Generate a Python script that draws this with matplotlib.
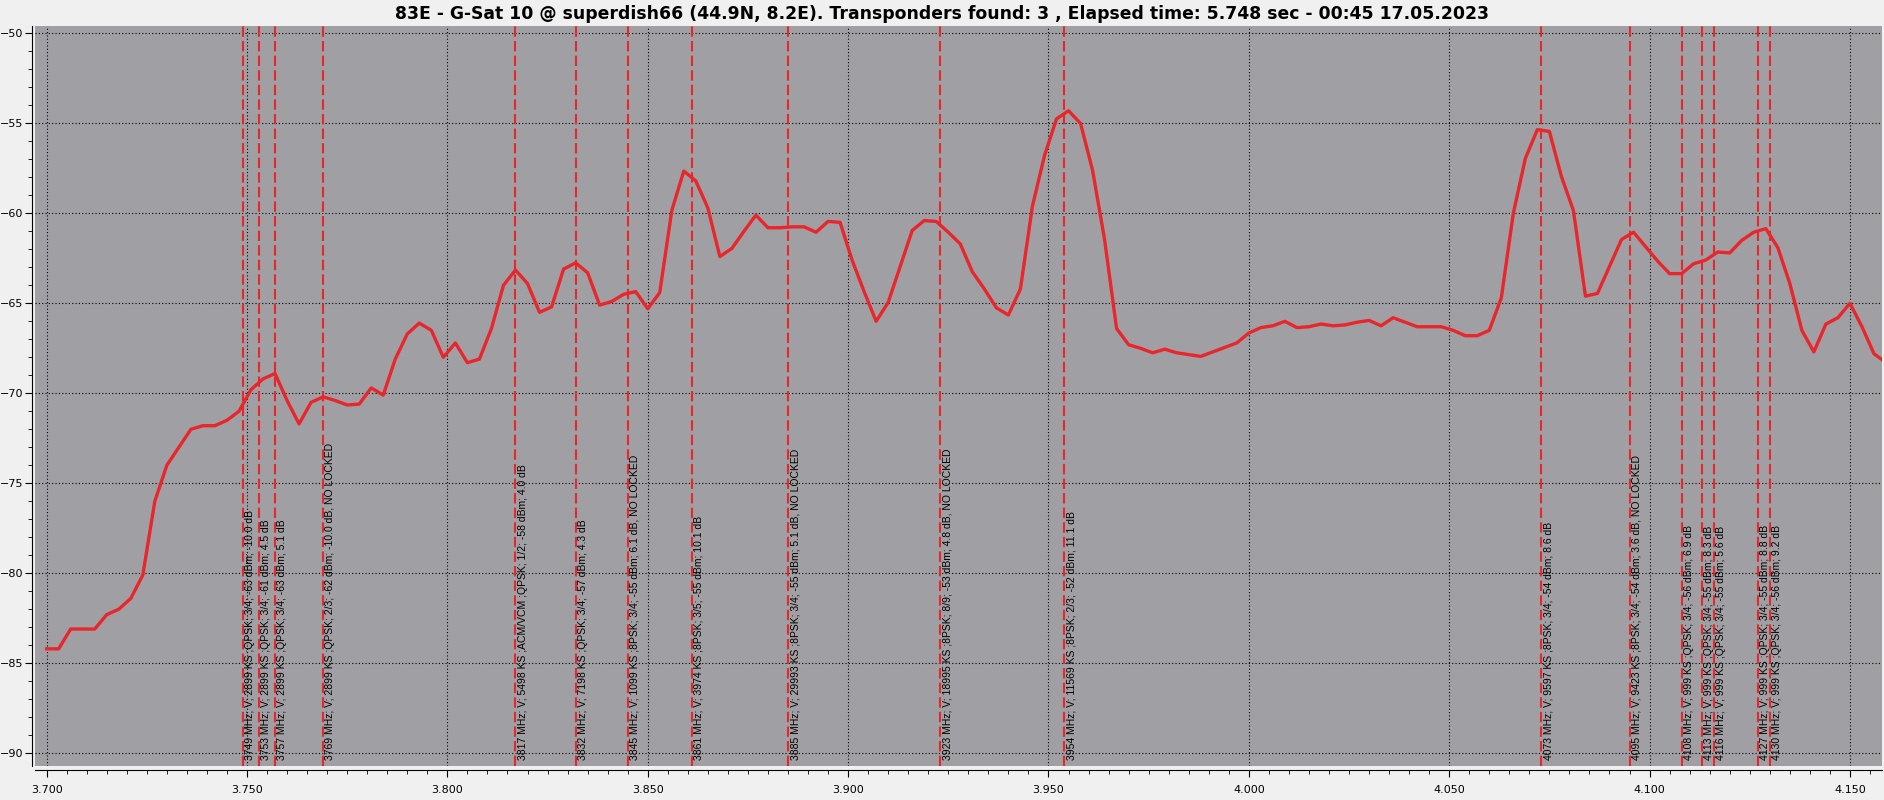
#!/usr/bin/env python3
"""Spectrum scan 83E G-Sat 10: level vs frequency with transponder markers."""
import matplotlib
matplotlib.use("Agg")
import matplotlib.pyplot as plt
from matplotlib.ticker import MultipleLocator, FormatStrFormatter
import matplotlib.transforms as mtransforms

TITLE = ("83E - G-Sat 10 @ superdish66 (44.9N, 8.2E). Transponders found: 3 , "
         "Elapsed time: 5.748 sec - 00:45 17.05.2023")

# scan points, MHz
FREQ = [3700, 3703, 3706, 3709, 3712, 3715, 3718, 3721, 3724, 3727, 3730, 3733, 3736, 3739, 3742,
        3745, 3748, 3751, 3754, 3757, 3760, 3763, 3766, 3769, 3772, 3775, 3778, 3781, 3784, 3787,
        3790, 3793, 3796, 3799, 3802, 3805, 3808, 3811, 3814, 3817, 3820, 3823, 3826, 3829, 3832,
        3835, 3838, 3841, 3844, 3847, 3850, 3853, 3856, 3859, 3862, 3865, 3868, 3871, 3874, 3877,
        3880, 3883, 3886, 3889, 3892, 3895, 3898, 3901, 3904, 3907, 3910, 3913, 3916, 3919, 3922,
        3925, 3928, 3931, 3934, 3937, 3940, 3943, 3946, 3949, 3952, 3955, 3958, 3961, 3964, 3967,
        3970, 3973, 3976, 3979, 3982, 3985, 3988, 3991, 3994, 3997, 4000, 4003, 4006, 4009, 4012,
        4015, 4018, 4021, 4024, 4027, 4030, 4033, 4036, 4039, 4042, 4045, 4048, 4051, 4054, 4057,
        4060, 4063, 4066, 4069, 4072, 4075, 4078, 4081, 4084, 4087, 4090, 4093, 4096, 4099, 4102,
        4105, 4108, 4111, 4114, 4117, 4120, 4123, 4126, 4129, 4132, 4135, 4138, 4141, 4144, 4147,
        4150, 4153, 4156, 4159]

# level, dBm
LEVEL = [-84.2, -84.2, -83.1, -83.1, -83.1, -82.3, -82.0, -81.4, -80.1, -76.0, -74.0, -73.0, -72.0, -71.8, -71.8,
         -71.5, -71.0, -69.8, -69.2, -68.9, -70.4, -71.7, -70.5, -70.2, -70.4, -70.65, -70.6, -69.7, -70.1, -68.1,
         -66.7, -66.1, -66.5, -68.0, -67.2, -68.3, -68.1, -66.4, -64.0, -63.15, -63.9, -65.5, -65.2, -63.1, -62.75,
         -63.3, -65.1, -64.9, -64.5, -64.35, -65.3, -64.4, -59.85, -57.65, -58.2, -59.7, -62.4, -61.95, -61.0, -60.1,
         -60.8, -60.8, -60.75, -60.75, -61.05, -60.45, -60.5, -62.6, -64.35, -66.0, -64.95, -62.95, -60.95, -60.4, -60.45,
         -61.05, -61.7, -63.25, -64.2, -65.25, -65.65, -64.2, -59.6, -56.8, -54.75, -54.3, -55.0, -57.6, -61.45, -66.4,
         -67.3, -67.5, -67.75, -67.55, -67.75, -67.85, -67.95, -67.7, -67.45, -67.2, -66.65, -66.35, -66.25, -66.0, -66.35,
         -66.3, -66.15, -66.25, -66.2, -66.05, -65.95, -66.25, -65.8, -66.05, -66.3, -66.3, -66.3, -66.5, -66.8, -66.8,
         -66.5, -64.7, -60.0, -56.95, -55.35, -55.45, -57.95, -59.85, -64.6, -64.45, -62.95, -61.45, -61.05, -61.85, -62.65,
         -63.35, -63.35, -62.8, -62.6, -62.15, -62.2, -61.5, -61.05, -60.85, -61.9, -63.9, -66.5, -67.7, -66.15, -65.8,
         -65.0, -66.3, -67.8, -68.3]

# transponders found (MHz) and their info labels
TP_FREQ = [3749, 3753, 3757, 3769, 3817, 3832, 3845, 3861, 3885, 3923, 3954,
           4073, 4095, 4108, 4113, 4116, 4127, 4130]
TP_LABEL = [
    "3749 MHz; V; 2899 KS ;QPSK; 3/4; -63 dBm; -10.0 dB",
    "3753 MHz; V; 2899 KS ;QPSK; 3/4; -61 dBm; 4.5 dB",
    "3757 MHz; V; 2899 KS ;QPSK; 3/4; -63 dBm; 5.1 dB",
    "3769 MHz; V; 2899 KS ;QPSK; 2/3; -62 dBm; -10.0 dB, NO LOCKED",
    "3817 MHz; V; 5498 KS ;ACM/VCM ;QPSK; 1/2; -58 dBm; 4.0 dB",
    "3832 MHz; V; 7198 KS ;QPSK; 3/4; -57 dBm; 4.3 dB",
    "3845 MHz; V; 1099 KS ;8PSK; 3/4; -55 dBm; 6.1 dB, NO LOCKED",
    "3861 MHz; V; 3974 KS ;8PSK; 3/5; -55 dBm; 10.1 dB",
    "3885 MHz; V; 29993 KS ;8PSK; 3/4; -55 dBm; 5.1 dB, NO LOCKED",
    "3923 MHz; V; 18995 KS ;8PSK; 8/9; -53 dBm; 4.8 dB, NO LOCKED",
    "3954 MHz; V; 11569 KS ;8PSK; 2/3; -52 dBm; 11.1 dB",
    "4073 MHz; V; 9597 KS ;8PSK; 3/4; -54 dBm; 8.6 dB",
    "4095 MHz; V; 9423 KS ;8PSK; 3/4; -54 dBm; 3.6 dB, NO LOCKED",
    "4108 MHz; V; 999 KS ;QPSK; 3/4; -56 dBm; 6.9 dB",
    "4113 MHz; V; 999 KS ;QPSK; 3/4; -55 dBm; 8.3 dB",
    "4116 MHz; V; 999 KS ;QPSK; 3/4; -55 dBm; 5.6 dB",
    "4127 MHz; V; 999 KS ;QPSK; 3/4; -55 dBm; 8.8 dB",
    "4130 MHz; V; 999 KS ;QPSK; 3/4; -56 dBm; 9.2 dB",
]

RED = "#e8262c"

fig = plt.figure(figsize=(18.84, 8.0), dpi=100, facecolor="#f0f0f0")
ax = fig.add_axes([35 / 1884, 1 - 766 / 800, 1847 / 1884, 740 / 800])
ax.set_facecolor("#a0a0a4")

ax.set_xlim(3.6971, 4.1580)
ax.set_ylim(-90.71, -49.59)
ax.xaxis.set_major_locator(MultipleLocator(0.05))
ax.xaxis.set_minor_locator(MultipleLocator(0.005))
ax.xaxis.set_major_formatter(FormatStrFormatter("%.3f"))
ax.yaxis.set_major_locator(MultipleLocator(5))
ax.yaxis.set_minor_locator(MultipleLocator(1))
ax.grid(True, which="major", color="black", linestyle=(0, (1, 2)), linewidth=0.8)
ax.set_axisbelow(True)

for s in ("top", "right"):
    ax.spines[s].set_visible(False)
ax.spines["left"].set_position(("outward", 2))
ax.spines["bottom"].set_position(("outward", 3))
ax.tick_params(which="major", length=5, labelsize=8)
ax.tick_params(axis="x", which="major", pad=6)
ax.tick_params(axis="y", which="major", pad=1.5)
ax.tick_params(which="minor", length=3)

# transponder markers
trans = mtransforms.blended_transform_factory(ax.transData, ax.transAxes)
for f, lab in zip(TP_FREQ, TP_LABEL):
    ax.axvline(f / 1000, color=RED, linestyle=(0, (5, 2)), linewidth=1.5, zorder=2)
    ax.annotate(lab, xy=(f / 1000, 0), xycoords=trans, xytext=(1.5, 4),
                textcoords="offset points", rotation=90, ha="left", va="bottom",
                fontsize=7.5, family="Liberation Sans", color="black", zorder=3)

ax.plot([f / 1000 for f in FREQ], LEVEL, color=RED, linewidth=2.4, zorder=4)

fig.suptitle(TITLE, x=0.5, y=0.994, va="top", fontsize=12.4, fontweight="bold")

fig.savefig("out.png", dpi=100, facecolor=fig.get_facecolor())
